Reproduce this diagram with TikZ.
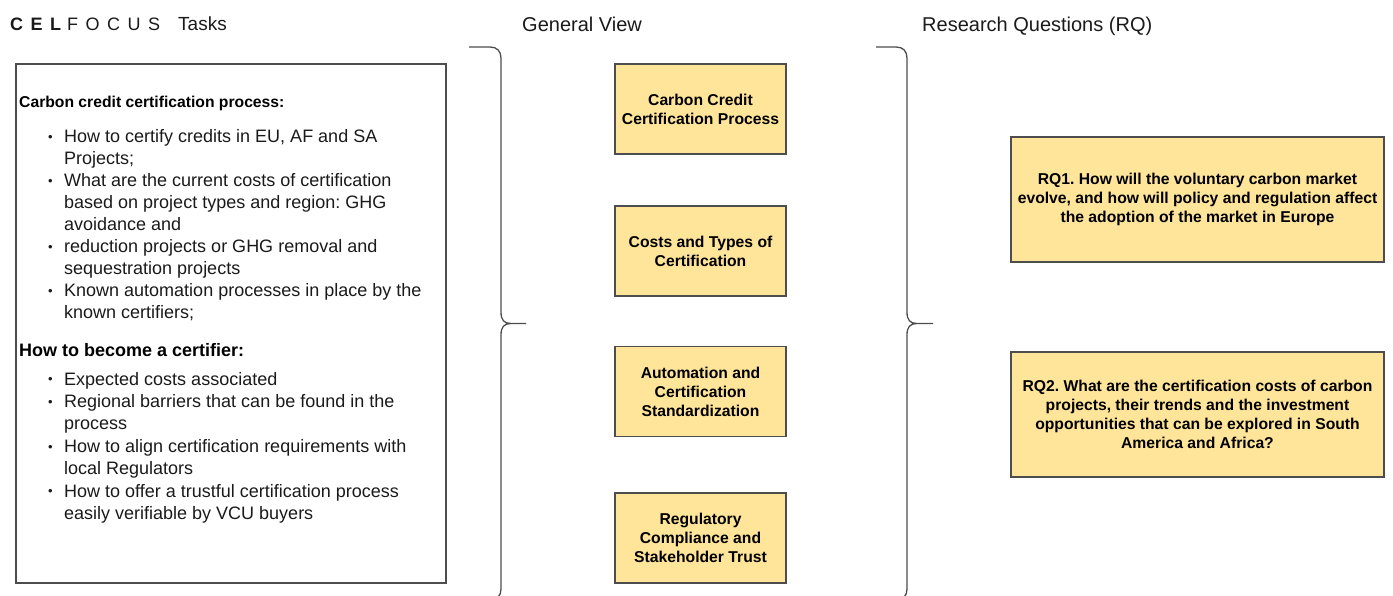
\documentclass[tikz,border=0pt]{standalone}
\usepackage{fontspec}
\setmainfont{Liberation Sans}
\usepackage{array}

\definecolor{boxfill}{HTML}{FFE599}
\definecolor{edge}{HTML}{4D4D4D}
\definecolor{ink}{HTML}{1A1A1A}

\newcommand{\fsz}[2]{\fontsize{#1pt}{#2pt}\selectfont}
\newcommand{\dotitem}{\makebox[16pt][l]{\raisebox{1.2pt}{\fsz{13}{13}\textbullet}}}

\tikzset{
  headline/.style={anchor=base west, inner sep=0pt, text=ink, font=\fsz{20}{24}},
  topicbox/.style={draw=edge, fill=boxfill, line width=1.3pt, inner sep=0pt,
    align=center, text=black, font=\fsz{15.7}{19}\bfseries,
    minimum width=171pt, minimum height=90pt},
  rqbox/.style={topicbox, minimum width=373pt, minimum height=125pt},
  listtext/.style={anchor=base west, inner sep=0pt, text=ink},
  bracket/.style={draw=edge, line width=1.3pt}
}

\begin{document}
\frenchspacing
\begin{tikzpicture}[x=1pt, y=-1pt]
  \useasboundingbox (0,0) rectangle (1393,596);
  \clip (0,0) rectangle (1393,596);

  % column titles
  \node[headline] (logo) at (10,30.5)
    {\fsz{18}{22}{\bfseries C\kern7.5pt E\kern7.5pt L\kern6pt}F\kern7.5pt O\kern7.5pt C\kern7.5pt U\kern7.5pt S};
  \node[headline, font=\fsz{19}{23}] (tasks) at (178,30.5) {Tasks};
  \node[headline] (general) at (522,31.5) {General View};
  \node[headline] (research) at (922,31.5) {Research Questions (RQ)};

  % task list frame
  \node[draw=edge, line width=1.3pt, minimum width=430pt, minimum height=519pt, inner sep=0pt]
    (taskframe) at (231,323.5) {};

  \node[listtext, font=\fsz{15.7}{19}\bfseries, text=black] (head1) at (19,108)
    {Carbon credit certification process:};
  \node[listtext] (list1) at (48,143) {\fsz{18}{22}%
    \begin{tabular}[t]{@{}l@{}l@{}}
      \dotitem & How to certify credits in EU, AF and SA\\
               & Projects;\\
      \dotitem & What are the current costs of certification\\
               & based on project types and region: GHG\\
               & avoidance and\\
      \dotitem & reduction projects or GHG removal and\\
               & sequestration projects\\
      \dotitem & Known automation processes in place by the\\
               & known certifiers;
    \end{tabular}};

  \node[listtext, font=\fsz{18}{22}\bfseries, text=black] (head2) at (19,356)
    {How to become a certifier:};
  \node[listtext] (list2) at (48,385) {\fsz{18}{22.4}%
    \begin{tabular}[t]{@{}l@{}l@{}}
      \dotitem & Expected costs associated\\
      \dotitem & Regional barriers that can be found in the\\
               & process\\
      \dotitem & How to align certification requirements with\\
               & local Regulators\\
      \dotitem & How to offer a trustful certification process\\
               & easily verifiable by VCU buyers
    \end{tabular}};

  % braces grouping the columns
  \draw[bracket] (469,47) -- (490,47) .. controls (497,47) and (501,51) .. (501,58)
    -- (501,312) .. controls (501,320) and (504,323.5) .. (511,323.5) -- (526,323.5)
    (511,323.5) .. controls (504,323.5) and (501,327) .. (501,335)
    -- (501,589) .. controls (501,596) and (497,600) .. (490,600) -- (469,600);
  \draw[bracket] (876,47) -- (896,47) .. controls (903,47) and (907,51) .. (907,58)
    -- (907,312) .. controls (907,320) and (910,323.5) .. (917,323.5) -- (933,323.5)
    (917,323.5) .. controls (910,323.5) and (907,327) .. (907,335)
    -- (907,589) .. controls (907,596) and (903,600) .. (896,600) -- (876,600);

  % general view topics
  \node[topicbox] (topic1) at (700.5,109)   {Carbon Credit\\Certification Process};
  \node[topicbox] (topic2) at (700.5,251)   {Costs and Types of\\Certification};
  \node[topicbox] (topic3) at (700.5,391.5) {Automation and\\Certification\\Standardization};
  \node[topicbox] (topic4) at (700.5,538)   {Regulatory\\Compliance and\\Stakeholder Trust};

  % research questions
  \node[rqbox] (rq1) at (1197.5,199.5)
    {RQ1. How will the voluntary carbon market\\evolve, and how will policy and regulation affect\\the adoption of the market in Europe};
  \node[rqbox] (rq2) at (1197.5,414.5)
    {RQ2. What are the certification costs of carbon\\projects, their trends and the investment\\opportunities that can be explored in South\\America and Africa?};
\end{tikzpicture}
\end{document}
